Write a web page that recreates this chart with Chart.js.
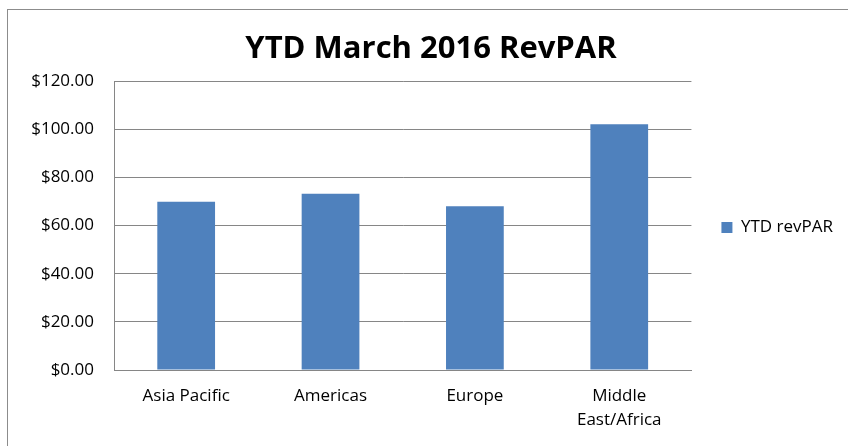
<!DOCTYPE html>
<html>
<head>
<meta charset="utf-8">
<script src="https://cdn.jsdelivr.net/npm/chart.js@4"></script>
<style>
  body { margin: 0; background: #fff; }
  #frame { position: absolute; left: 7px; top: 9px; width: 900px; height: 500px; border: 1px solid #8c8c8c; }
  #chart { position: absolute; left: 0; top: 0; }
</style>
</head>
<body>
<div id="frame"></div>
<canvas id="chart" width="848" height="446"></canvas>
<script>
var regions = ['Asia Pacific', 'Americas', 'Europe', ['Middle', 'East/Africa']];
var revpar = [69.9, 73.2, 68.0, 102.1];
var seriesName = 'YTD revPAR';
var chartTitle = 'YTD March 2016 RevPAR';

var fontFamily = '"Open Sans", sans-serif';

// legend sits a little higher than Chart.js centres it
var legendLift = {
    id: 'legendLift',
    afterLayout: function (chart) {
        if (chart.legend) {
            chart.legend.top -= 11;
            chart.legend.bottom -= 11;
        }
    }
};

var ctx = document.getElementById('chart').getContext('2d');
var revparChart = new Chart(ctx, {
    type: 'bar',
    data: {
        labels: regions,
        datasets: [{
            label: seriesName,
            data: revpar,
            backgroundColor: '#4f81bd',
            borderWidth: 0,
            categoryPercentage: 1,
            barPercentage: 0.4
        }]
    },
    plugins: [legendLift],
    options: {
        responsive: false,
        animation: false,
        layout: {
            padding: { left: 19, right: 5, top: 31, bottom: 0 }
        },
        plugins: {
            title: {
                display: true,
                text: chartTitle,
                color: '#000',
                font: { family: fontFamily, size: 31, weight: 'bold' },
                padding: { top: 0, bottom: 13 }
            },
            legend: {
                position: 'right',
                labels: {
                    boxWidth: 11,
                    boxHeight: 11,
                    padding: 30,
                    color: '#000',
                    font: { family: fontFamily, size: 17 }
                }
            },
            tooltip: { enabled: false }
        },
        scales: {
            x: {
                afterFit: function (scale) { scale.height = 76; },
                grid: { display: false, drawTicks: false },
                border: { color: '#868686' },
                ticks: {
                    color: '#000',
                    padding: 14,
                    maxRotation: 0,
                    font: { family: fontFamily, size: 17, lineHeight: 1.41 }
                }
            },
            y: {
                min: 0,
                max: 120,
                afterFit: function (scale) { scale.width = 95; },
                grid: { color: '#868686', drawTicks: false },
                border: { color: '#868686' },
                ticks: {
                    stepSize: 20,
                    color: '#000',
                    padding: 20,
                    font: { family: fontFamily, size: 17 },
                    callback: function (v) { return '$' + v.toFixed(2); }
                }
            }
        }
    }
});
</script>
</body>
</html>
